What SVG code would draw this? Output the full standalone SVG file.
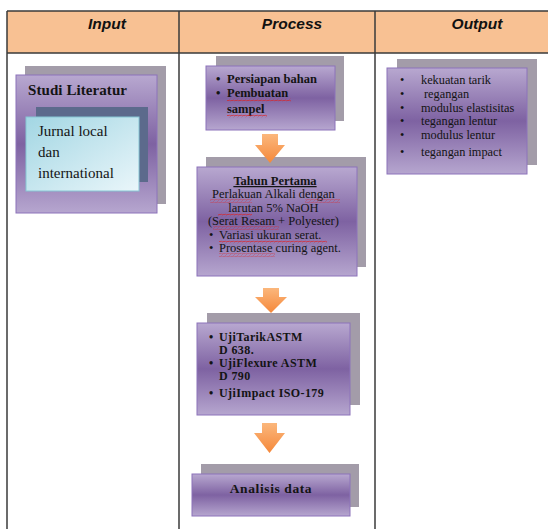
<svg xmlns="http://www.w3.org/2000/svg" width="548" height="529" viewBox="0 0 548 529">
<defs>
<linearGradient id="purp" x1="0" y1="0" x2="0" y2="1">
<stop offset="0" stop-color="#B8A8D0"/>
<stop offset="0.5" stop-color="#7E62A2"/>
<stop offset="1" stop-color="#B6A6CF"/>
</linearGradient>
<linearGradient id="cyan" x1="0" y1="0" x2="1" y2="1">
<stop offset="0" stop-color="#A2D6E3"/>
<stop offset="1" stop-color="#EAF6FA"/>
</linearGradient>
<linearGradient id="orange" x1="0" y1="0" x2="0" y2="1">
<stop offset="0" stop-color="#FBB77C"/>
<stop offset="1" stop-color="#F5883A"/>
</linearGradient>
<pattern id="wavy" width="4" height="3" patternUnits="userSpaceOnUse">
<path d="M0,2 Q1,0 2,1.5 T4,1" fill="none" stroke="#E02020" stroke-width="0.7"/>
</pattern>
</defs>
<style>
.hdr{font-family:"Liberation Sans",Arial,sans-serif;font-weight:bold;font-style:italic;font-size:15.5px;fill:#111}
.grid{stroke:#3a3a3a;stroke-width:1.5;fill:none}
.shadow{fill:#A39CA9}
.box{fill:url(#purp);stroke:#8C72BA;stroke-width:1}
.inshadow{fill:#5C6A8C}
.inbox{fill:url(#cyan);stroke:#86C6D4;stroke-width:1}
.t{font-family:"Liberation Serif","Times New Roman",serif;fill:#141414}
.b{font-weight:bold}
.arr{fill:url(#orange)}
.wv{fill:url(#wavy)}
</style>

<g id="table">
<rect x="7" y="11" width="541" height="42" fill="#F8C193"/>
<line class="grid" x1="7" y1="11" x2="548" y2="11"/>
<line class="grid" x1="7" y1="53" x2="548" y2="53" stroke-width="2"/>
<line class="grid" x1="7" y1="11" x2="7" y2="529"/>
<line class="grid" x1="179" y1="11" x2="179" y2="529"/>
<line class="grid" x1="375" y1="11" x2="375" y2="529"/>
<text class="hdr" x="107" y="29" text-anchor="middle">Input</text>
<text class="hdr" x="292" y="29" text-anchor="middle">Process</text>
<text class="hdr" x="477" y="29" text-anchor="middle">Output</text>
</g>

<g id="studi-literatur">
<rect class="shadow" x="25" y="66" width="141" height="138"/>
<rect class="box" x="16" y="75" width="141" height="138"/>
<text class="t b" x="28" y="95" font-size="15" textLength="99">Studi Literatur</text>
<rect class="inshadow" x="36" y="107" width="112" height="75"/>
<rect class="inbox" x="26" y="117" width="113" height="74"/>
<text class="t" x="38" y="136" font-size="15">Jurnal local</text>
<text class="t" x="38" y="157" font-size="15">dan</text>
<text class="t" x="38" y="178" font-size="15">international</text>
</g>

<g id="persiapan">
<rect class="shadow" x="216" y="56" width="128" height="65"/>
<rect class="box" x="206" y="66" width="129" height="64"/>
<text class="t b" font-size="12.5">
<tspan x="216" y="83">•</tspan><tspan x="227" y="83">Persiapan bahan</tspan>
<tspan x="216" y="97">•</tspan><tspan x="227" y="97">Pembuatan</tspan>
<tspan x="227" y="113">sampel</tspan>
</text>
<rect class="wv" x="227" y="98.5" width="64" height="3"/>
<rect class="wv" x="227" y="114.5" width="40" height="3"/>
</g>

<g id="tahun-pertama">
<rect class="shadow" x="206" y="157" width="160" height="110"/>
<rect class="box" x="197" y="167" width="160" height="109"/>
<text class="t b" x="275" y="185" font-size="12.5" text-anchor="middle" text-decoration="underline">Tahun Pertama</text>
<text class="t" font-size="12.5">
<tspan x="275" y="198" text-anchor="middle">Perlakuan Alkali dengan</tspan>
<tspan x="275" y="212" text-anchor="middle">larutan 5% NaOH</tspan>
<tspan x="275" y="225" text-anchor="middle">(Serat Resam + Polyester)</tspan>
<tspan x="209" y="239">•</tspan><tspan x="219" y="239">Variasi ukuran serat.</tspan>
<tspan x="209" y="252">•</tspan><tspan x="219" y="252">Prosentase curing agent.</tspan>
</text>
<rect class="wv" x="210" y="199.5" width="42" height="3"/>
<rect class="wv" x="305" y="199.5" width="35" height="3"/>
<rect class="wv" x="218" y="213.5" width="34" height="3"/>
<rect class="wv" x="213" y="226.5" width="66" height="3"/>
<rect class="wv" x="219" y="240.5" width="108" height="3"/>
<rect class="wv" x="219" y="253.5" width="56" height="3"/>
</g>

<g id="uji">
<rect class="shadow" x="207" y="313" width="153" height="92"/>
<rect class="box" x="197" y="323" width="153" height="92"/>
<text class="t b" font-size="12" letter-spacing="0.4">
<tspan x="209" y="341">•</tspan><tspan x="219" y="341">UjiTarikASTM</tspan>
<tspan x="219" y="354">D 638.</tspan>
<tspan x="209" y="367">•</tspan><tspan x="219" y="367">UjiFlexure ASTM</tspan>
<tspan x="219" y="380">D 790</tspan>
<tspan x="209" y="397">•</tspan><tspan x="219" y="397">UjiImpact ISO-179</tspan>
</text>
</g>

<g id="analisis">
<rect class="shadow" x="201" y="464" width="158" height="43"/>
<rect class="box" x="192" y="474" width="158" height="42"/>
<text class="t b" x="271" y="493" font-size="13.5" text-anchor="middle" letter-spacing="0.6">Analisis  data</text>
</g>

<g id="output">
<rect class="shadow" x="397" y="59" width="140" height="106"/>
<rect class="box" x="387" y="68" width="140" height="106"/>
<text class="t" font-size="12.3">
<tspan x="400" y="84">•</tspan><tspan x="421" y="84">kekuatan tarik</tspan>
<tspan x="400" y="98">•</tspan><tspan x="424" y="98">regangan</tspan>
<tspan x="400" y="112">•</tspan><tspan x="421" y="112">modulus elastisitas</tspan>
<tspan x="400" y="125">•</tspan><tspan x="421" y="125">tegangan lentur</tspan>
<tspan x="400" y="139">•</tspan><tspan x="421" y="139">modulus lentur</tspan>
<tspan x="400" y="156">•</tspan><tspan x="421" y="156">tegangan impact</tspan>
</text>
</g>

<g id="connectors">
<path class="arr" d="M262,134 H278 V145 H285 L270,163 L255,145 H262 Z"/>
<path class="arr" d="M263,288 H279 V297 H287 L271,313 L255,297 H263 Z"/>
<path class="arr" d="M262,423 H277 V433 H285 L269.5,453 L254,433 H262 Z"/>
</g>
</svg>
